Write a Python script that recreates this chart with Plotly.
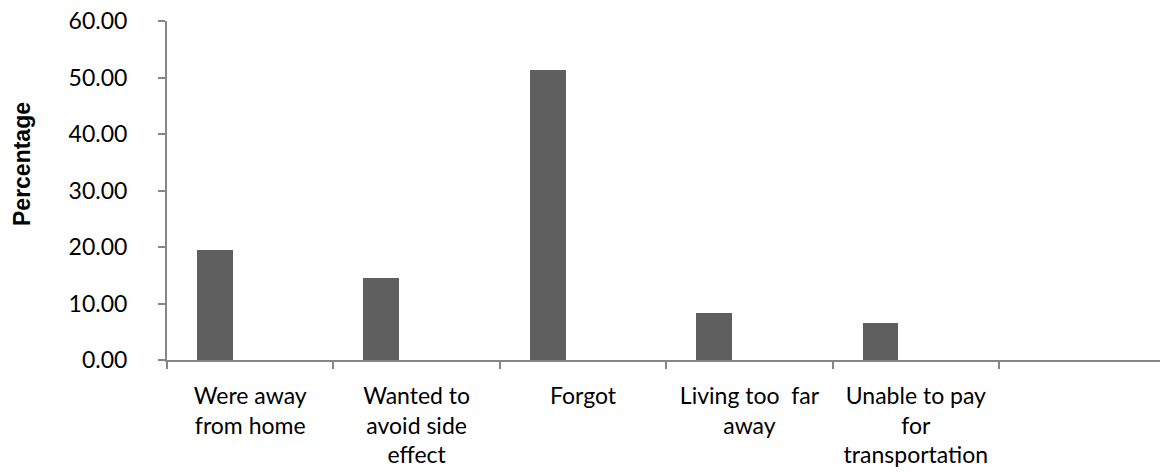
import plotly.graph_objects as go

# Reasons for missing doses and the share of respondents giving each
categories = [
    "Were away<br>from home",
    "Wanted to<br>avoid side<br>effect",
    "Forgot",
    "Living too  far<br>away",
    "Unable to pay<br>for<br>transportation",
    " ",
]
percentages = [19.4, 14.5, 51.4, 8.3, 6.5, None]
y_ticks = [0, 10, 20, 30, 40, 50, 60]

AXIS_GREY = "#868686"
BAR_GREY = "#5f5f5f"
LABEL_FONT = dict(family="Lato, Liberation Sans, sans-serif", size=23, color="#000000")

fig = go.Figure()
fig.add_trace(
    go.Bar(
        x=categories,
        y=percentages,
        width=0.215,
        offset=-0.32,
        marker=dict(color=BAR_GREY, line=dict(width=0)),
        showlegend=False,
    )
)

fig.update_layout(
    width=1160,
    height=472,
    margin=dict(l=167, r=0, t=21, b=112),
    paper_bgcolor="white",
    plot_bgcolor="white",
    bargap=0,
    xaxis=dict(
        type="category",
        categoryorder="array",
        categoryarray=categories,
        range=[-0.5, 5.467],
        showline=True,
        linecolor=AXIS_GREY,
        linewidth=2,
        ticks="outside",
        tickson="boundaries",
        ticklen=7,
        tickwidth=2,
        tickcolor=AXIS_GREY,
        showgrid=False,
        zeroline=False,
        tickfont=LABEL_FONT,
        ticklabelstandoff=14,
    ),
    yaxis=dict(
        range=[0, 60],
        tickvals=y_ticks,
        tickformat=".2f",
        showline=True,
        linecolor=AXIS_GREY,
        linewidth=2,
        ticks="outside",
        ticklen=7,
        tickwidth=2,
        tickcolor=AXIS_GREY,
        showgrid=False,
        zeroline=False,
        tickfont=LABEL_FONT,
        ticklabelstandoff=26,
    ),
    annotations=[
        dict(
            text="<b>Percentage</b>",
            xref="paper",
            yref="paper",
            x=-167 / 993 + 22 / 993,
            y=(360 - 164) / 339,
            xanchor="center",
            yanchor="middle",
            textangle=-90,
            showarrow=False,
            font=dict(family="Liberation Sans, Arial, sans-serif", size=23, color="#000000"),
        )
    ],
)

fig.write_html("out.html")
